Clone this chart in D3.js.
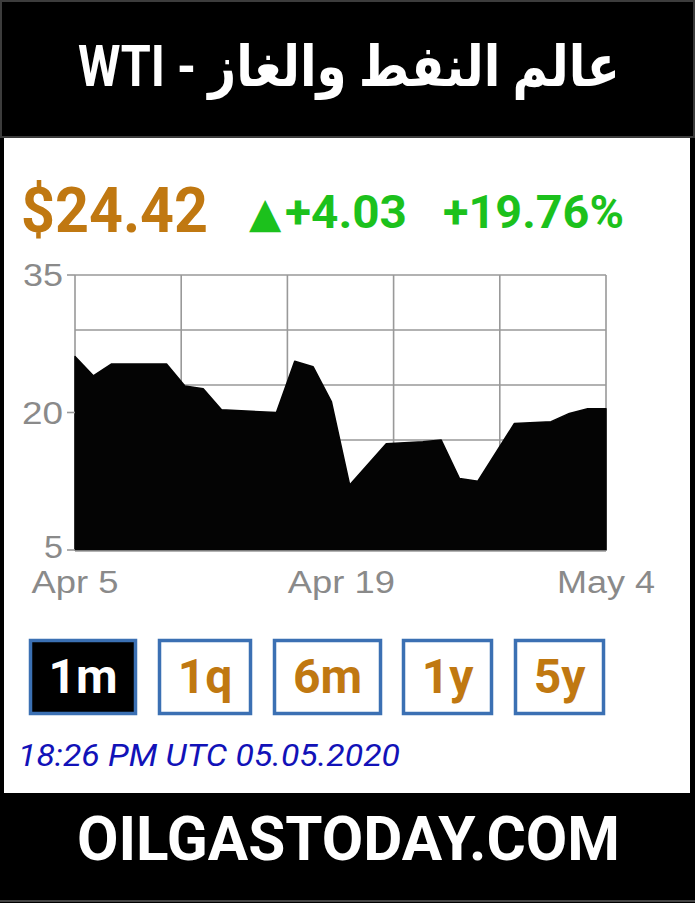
<!DOCTYPE html>
<html>
<head>
<meta charset="utf-8">
<script src="https://cdn.jsdelivr.net/npm/d3@7"></script>
<style>
  html, body { margin: 0; padding: 0; background: #000; }
  svg { display: block; }
</style>
</head>
<body>
<script>
// ---------- data ----------
const title = "WTI - عالم النفط والغاز";
const priceText = "$24.42";
const changeArrow = "▲";
const changeText = "+4.03";
const pctText = "+19.76%";
const dates = ["2020-04-05","2020-04-06","2020-04-07","2020-04-10","2020-04-11","2020-04-12",
  "2020-04-13","2020-04-16","2020-04-17","2020-04-18","2020-04-19","2020-04-20","2020-04-22",
  "2020-04-24","2020-04-25","2020-04-26","2020-04-27","2020-04-29","2020-05-01","2020-05-02",
  "2020-05-03","2020-05-04"];
const prices = [26.1, 24.0, 25.3, 25.3, 22.9, 22.6, 20.3, 20.0, 25.6, 25.0, 21.2, 12.1, 16.6,
  16.8, 17.0, 12.8, 12.5, 18.8, 19.0, 19.9, 20.4, 20.4];
const yTickLabels = [35, 20, 5];
const xTickLabels = ["Apr 5", "Apr 19", "May 4"];
const xTickDates = ["2020-04-05", "2020-04-19", "2020-05-04"];
const ranges = ["1m", "1q", "6m", "1y", "5y"];
const activeRange = "1m";
const stamp = "18:26 PM UTC 05.05.2020";
const footer = "OILGASTODAY.COM";

// ---------- layout ----------
const W = 695, H = 903;
const parse = d3.utcParse("%Y-%m-%d");
const data = dates.map((d, i) => ({ date: parse(d), value: prices[i] }));

const svg = d3.select("body").append("svg").attr("width", W).attr("height", H);

// page frame
svg.append("rect").attr("x", 0).attr("y", 0).attr("width", W).attr("height", H).attr("fill", "#000");
svg.append("rect").attr("x", 4).attr("y", 137).attr("width", W - 9).attr("height", 656).attr("fill", "#fff");
svg.append("rect").attr("x", 1).attr("y", 1).attr("width", W - 2).attr("height", 136)
  .attr("fill", "none").attr("stroke", "#3c3c3c").attr("stroke-width", 2);
svg.append("line").attr("x1", 0).attr("x2", W).attr("y1", H - 2).attr("y2", H - 2)
  .attr("stroke", "#444").attr("stroke-width", 2);

function fitText(sel, width) {
  sel.attr("textLength", width).attr("lengthAdjust", "spacingAndGlyphs");
  return sel;
}

// header title
fitText(svg.append("text").attr("x", 349).attr("y", 86).attr("text-anchor", "middle")
  .attr("fill", "#fff").attr("font-family", "Roboto, 'DejaVu Sans', sans-serif")
  .attr("font-weight", 700).attr("font-size", 57)
  .text(title), 542);

// price line
fitText(svg.append("text").attr("x", 21).attr("y", 232)
  .attr("fill", "#c07811").attr("font-family", "Roboto, sans-serif")
  .attr("font-weight", 700).attr("font-size", 63).text(priceText), 187);
svg.append("text").attr("x", 249).attr("y", 227)
  .attr("fill", "#1cc11c").attr("font-family", "'DejaVu Sans', sans-serif")
  .attr("font-size", 42).text(changeArrow);
fitText(svg.append("text").attr("x", 285).attr("y", 228)
  .attr("fill", "#1cc11c").attr("font-family", "Roboto, sans-serif")
  .attr("font-weight", 700).attr("font-size", 46).text(changeText), 122);
fitText(svg.append("text").attr("x", 443).attr("y", 228)
  .attr("fill", "#1cc11c").attr("font-family", "Roboto, sans-serif")
  .attr("font-weight", 700).attr("font-size", 46).text(pctText), 181);

// chart
const plot = { left: 75, right: 606, top: 275, bottom: 550 };
const x = d3.scaleUtc().domain([parse(dates[0]), parse(dates[dates.length - 1])])
  .range([plot.left, plot.right]);
const y = d3.scaleLinear().domain([5, 35]).range([plot.bottom, plot.top]);
const gridColor = "#999";

const g = svg.append("g");
g.selectAll("line.hg").data(d3.range(5, 36, 6)).join("line").attr("class", "hg")
  .attr("x1", plot.left).attr("x2", plot.right)
  .attr("y1", d => y(d)).attr("y2", d => y(d))
  .attr("stroke", gridColor).attr("stroke-width", 1.6);
g.selectAll("line.vg").data(d3.range(0, 6)).join("line").attr("class", "vg")
  .attr("x1", i => plot.left + i * (plot.right - plot.left) / 5)
  .attr("x2", i => plot.left + i * (plot.right - plot.left) / 5)
  .attr("y1", plot.top).attr("y2", plot.bottom)
  .attr("stroke", gridColor).attr("stroke-width", 1.6);

const area = d3.area().x(d => x(d.date)).y0(y(5)).y1(d => y(d.value))
  .curve(d3.curveLinear);
g.append("path").datum(data).attr("d", area).attr("fill", "#040404")
  .attr("stroke", "#040404").attr("stroke-width", 1.5).attr("stroke-linejoin", "round");

g.append("line").attr("x1", plot.left).attr("x2", plot.right).attr("y1", plot.bottom + 1).attr("y2", plot.bottom + 1)
  .attr("stroke", gridColor).attr("stroke-width", 1.6);

// y ticks
const yLabelW = { 35: 40, 20: 41, 5: 19 };
g.selectAll("line.yt").data(yTickLabels).join("line").attr("class", "yt")
  .attr("x1", plot.left - 8).attr("x2", plot.left)
  .attr("y1", d => y(d)).attr("y2", d => y(d))
  .attr("stroke", gridColor).attr("stroke-width", 1.6);
g.selectAll("text.yl").data(yTickLabels).join("text").attr("class", "yl")
  .attr("x", d => plot.left - 12 - yLabelW[d]).attr("y", d => y(d) + (d === 5 ? 8 : 11))
  .attr("fill", "#8a8a8a")
  .attr("font-family", "'Liberation Sans', Arial, sans-serif").attr("font-size", 31)
  .attr("textLength", d => yLabelW[d]).attr("lengthAdjust", "spacingAndGlyphs")
  .text(d => d);

// x labels
const xLabelW = [87, 107, 98];
g.selectAll("text.xl").data(xTickLabels).join("text").attr("class", "xl")
  .attr("x", (d, i) => x(parse(xTickDates[i])) + (i === 1 ? 10 : 0) - xLabelW[i] / 2).attr("y", 593)
  .attr("fill", "#8a8a8a")
  .attr("font-family", "'Liberation Sans', Arial, sans-serif").attr("font-size", 31)
  .attr("textLength", (d, i) => xLabelW[i]).attr("lengthAdjust", "spacingAndGlyphs")
  .text(d => d);

// range buttons
const btnX = [29, 158, 273, 402, 514];
const btnW = [108, 94, 109, 91, 91];
const btn = svg.append("g").selectAll("g").data(ranges).join("g");
btn.append("rect")
  .attr("x", (d, i) => btnX[i] + 1.5).attr("y", 640.5)
  .attr("width", (d, i) => btnW[i] - 3).attr("height", 73)
  .attr("fill", d => d === activeRange ? "#000" : "#fff")
  .attr("stroke", "#3b70b3").attr("stroke-width", 3.5);
btn.append("text")
  .attr("x", (d, i) => btnX[i] + btnW[i] / 2).attr("y", 693)
  .attr("text-anchor", "middle")
  .attr("fill", d => d === activeRange ? "#fff" : "#c07811")
  .attr("font-family", "Roboto, sans-serif").attr("font-weight", 700).attr("font-size", 48)
  .text(d => d);

// timestamp
fitText(svg.append("text").attr("x", 18).attr("y", 766)
  .attr("fill", "#1212b8").attr("font-family", "Roboto, sans-serif")
  .attr("font-style", "italic").attr("font-size", 31).text(stamp), 382);

// footer
fitText(svg.append("text").attr("x", 77).attr("y", 860)
  .attr("fill", "#fff").attr("font-family", "Roboto, sans-serif")
  .attr("font-weight", 700).attr("font-size", 62).text(footer), 543);
</script>
</body>
</html>
